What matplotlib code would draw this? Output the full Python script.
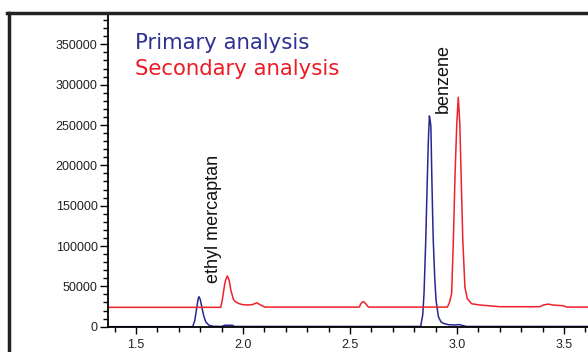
#!/usr/bin/env python3
"""
Chromatogram: primary vs secondary analysis
"""
import matplotlib
matplotlib.use('Agg')
import matplotlib.pyplot as plt
from matplotlib.lines import Line2D
from matplotlib.ticker import MultipleLocator

# Primary analysis (retention time, response)
primary_t = [1.369, 1.765, 1.775, 1.783, 1.790, 1.794, 1.800, 1.808, 1.816, 1.826,
             1.840, 1.860, 1.900, 1.915, 1.950, 1.960, 2.830, 2.840, 2.846, 2.854,
             2.858, 2.862, 2.866, 2.871, 2.875, 2.878, 2.882, 2.886, 2.889, 2.896,
             2.902, 2.913, 2.925, 2.936, 2.960, 2.990, 3.010, 3.030, 3.045, 3.612]
primary_y = [0, 0, 8000, 22000, 34000, 37200, 34000, 24000, 14000, 6000,
             2000, 500, 300, 1800, 1800, 300, 300, 15000, 41800, 107500,
             150000, 190500, 230000, 261200, 255000, 247900, 190500, 140000, 107500, 60000,
             33100, 12400, 6000, 4200, 2500, 2100, 2600, 1200, 300, 300]

# Secondary analysis
secondary_t = [1.369, 1.896, 1.902, 1.908, 1.914, 1.919, 1.927, 1.935, 1.943, 1.955,
               1.965, 1.978, 1.995, 2.017, 2.041, 2.055, 2.064, 2.075, 2.085, 2.103,
               2.543, 2.552, 2.562, 2.572, 2.586, 2.955, 2.965, 2.975, 2.983, 2.991,
               2.999, 3.006, 3.013, 3.019, 3.027, 3.037, 3.048, 3.069, 3.107, 3.200,
               3.388, 3.403, 3.427, 3.450, 3.466, 3.497, 3.513, 3.612]
secondary_y = [24000, 24000, 31000, 41400, 52000, 57900, 62800, 57900, 45500, 34000,
               31000, 29000, 27500, 26900, 27200, 28500, 29700, 28000, 26500, 24300,
               24300, 29000, 31200, 29000, 24300, 24300, 30000, 41400, 107500, 190000,
               252000, 284300, 252000, 190000, 107500, 49000, 34600, 28400, 26900, 24800,
               24800, 26900, 28000, 26800, 26500, 26000, 24300, 24300]

peak_names = ['ethyl mercaptan', 'benzene']
peak_label_t = [1.881, 2.956]
peak_label_y = [54500, 265000]

blue = '#27288f'
red = '#ee2229'

fig = plt.figure(figsize=(5.88, 3.52), dpi=100)
ax = fig.add_axes([108 / 588, 25.3 / 352, 480 / 588, 314.2 / 352])

ax.plot(primary_t, primary_y, color=blue, linewidth=1.1)
ax.plot(secondary_t, secondary_y, color=red, linewidth=1.1)

ax.set_xlim(1.3692, 3.6121)
ax.set_ylim(0, 389450)

ax.xaxis.set_major_locator(MultipleLocator(0.5))
ax.xaxis.set_minor_locator(MultipleLocator(0.1))
ax.yaxis.set_major_locator(MultipleLocator(50000))
ax.yaxis.set_minor_locator(MultipleLocator(10000))
ax.xaxis.set_major_formatter(matplotlib.ticker.FormatStrFormatter('%.1f'))
ax.yaxis.set_major_formatter(matplotlib.ticker.FormatStrFormatter('%d'))

for side in ['top', 'right']:
    ax.spines[side].set_visible(False)
for side in ['left', 'bottom']:
    ax.spines[side].set_linewidth(1.3)
    ax.spines[side].set_color('black')

ax.tick_params(axis='both', which='major', length=6, width=1, labelsize=9, pad=1.5,
               labelcolor='#222222')
ax.tick_params(axis='both', which='minor', length=3.5, width=1)
ax.tick_params(axis='x', which='major', length=5, pad=3.5)
for lbl in ax.get_xticklabels() + ax.get_yticklabels():
    lbl.set_family('Liberation Sans')

# legend-like titles
ax.text(1.495, 343800, 'Primary analysis', color='#2e3192', fontsize=15.3,
        va='baseline', ha='left')
ax.text(1.495, 312000, 'Secondary analysis', color='#ed1c24', fontsize=15.3,
        va='baseline', ha='left')

# peak names
for name, t, y in zip(peak_names, peak_label_t, peak_label_y):
    ax.text(t, y, name, rotation=90, rotation_mode='anchor', ha='left', va='baseline',
            fontsize=13, family='Liberation Sans', color='#111111')

# outer frame
fig.add_artist(Line2D([8.5 / 588, 8.5 / 588], [0, 1 - 12.5 / 352], transform=fig.transFigure,
                      color='#222222', linewidth=2.5))
fig.add_artist(Line2D([7.3 / 588, 1], [1 - 12.5 / 352, 1 - 12.5 / 352], transform=fig.transFigure,
                      color='#222222', linewidth=2.5))

plt.savefig('out.png', dpi=100)
plt.close()
